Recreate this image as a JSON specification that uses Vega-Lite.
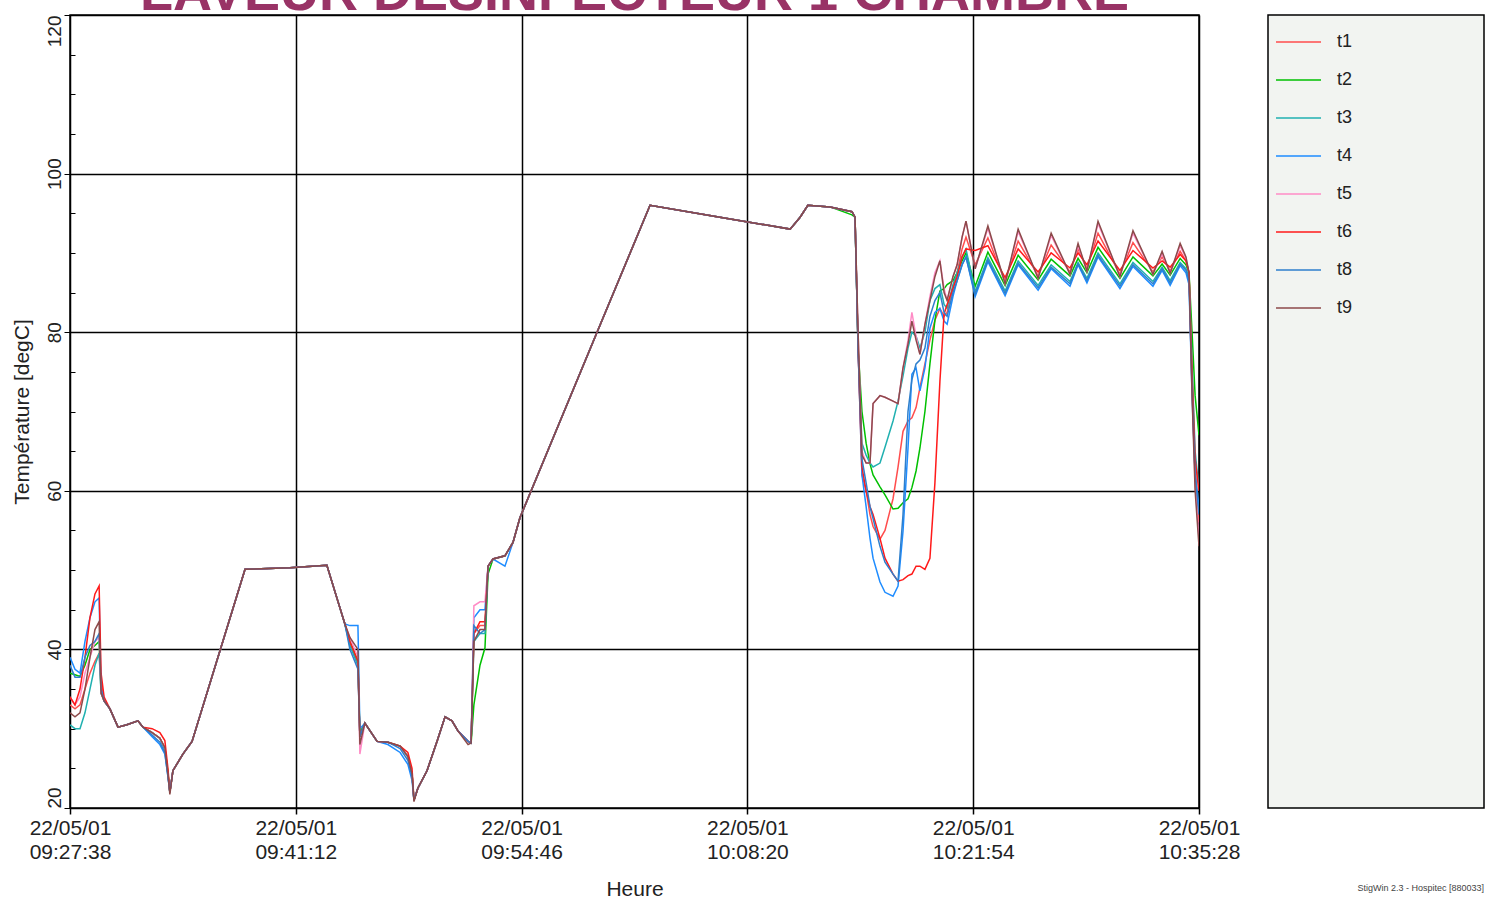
{
  "$schema": "https://vega.github.io/schema/vega-lite/v6.json",
  "background": "white",
  "padding": {"left": 10, "top": -35, "right": 0, "bottom": 0},
  "config": {"font": "Liberation Sans", "view": {"stroke": "black", "strokeWidth": 1.5}},
  "bounds": "flush",
  "spacing": 69,
  "hconcat": [
    {
      "width": 1129,
      "height": 793,
      "title": {"text": "LAVEUR DESINFECTEUR 1 CHAMBRE", "fontSize": 54, "fontWeight": "bold", "color": "#993366", "anchor": "middle", "offset": -6},
      "data": {"values": [
        {"t":"2001-05-22T09:27:38","t1":33,"t2":37,"t3":30.5,"t4":39,"t5":34,"t6":34,"t8":38,"t9":32},
        {"t":"2001-05-22T09:27:56","t1":32.5,"t2":36.8,"t3":30,"t4":37.5,"t5":33,"t6":33,"t8":36.5,"t9":31.5},
        {"t":"2001-05-22T09:28:14","t1":33,"t2":36.6,"t3":30,"t4":37,"t5":34,"t6":35,"t8":36.5,"t9":32},
        {"t":"2001-05-22T09:28:32","t1":35,"t2":38,"t3":32,"t4":41,"t5":37,"t6":39,"t8":39,"t9":35},
        {"t":"2001-05-22T09:28:50","t1":37,"t2":40,"t3":35,"t4":44,"t5":39,"t6":44,"t8":40.5,"t9":39},
        {"t":"2001-05-22T09:29:08","t1":38.5,"t2":40.5,"t3":38,"t4":46,"t5":41,"t6":47,"t8":41,"t9":42.5},
        {"t":"2001-05-22T09:29:23","t1":39.5,"t2":41,"t3":39.5,"t4":46.5,"t5":41.5,"t6":48,"t8":42,"t9":43.5},
        {"t":"2001-05-22T09:29:30","t1":36,"t2":34.5,"t3":34.5,"t4":35,"t5":34.5,"t6":37,"t8":35,"t9":34.5},
        {"t":"2001-05-22T09:29:41","t1":33.5,"t2":33.5,"t3":33.5,"t4":33.5,"t5":33.5,"t6":34,"t8":33.5,"t9":33.5},
        {"t":"2001-05-22T09:30:02","t1":32.5,"t2":32.5,"t3":32.5,"t4":32.5,"t5":32.5,"t6":32.5,"t8":32.5,"t9":32.5},
        {"t":"2001-05-22T09:30:31","t1":30.2,"t2":30.2,"t3":30.2,"t4":30.2,"t5":30.2,"t6":30.2,"t8":30.2,"t9":30.2},
        {"t":"2001-05-22T09:31:03","t1":30.5,"t2":30.5,"t3":30.5,"t4":30.5,"t5":30.5,"t6":30.5,"t8":30.5,"t9":30.5},
        {"t":"2001-05-22T09:31:43","t1":31,"t2":31,"t3":31,"t4":31,"t5":31,"t6":31,"t8":31,"t9":31},
        {"t":"2001-05-22T09:32:01","t1":30.2,"t2":30.2,"t3":30.2,"t4":30.2,"t5":30.2,"t6":30.2,"t8":30.2,"t9":30.2},
        {"t":"2001-05-22T09:32:34","t1":29.5,"t2":29.5,"t3":29.5,"t4":29,"t5":29.5,"t6":30,"t8":29.2,"t9":29.5},
        {"t":"2001-05-22T09:33:02","t1":28.8,"t2":28.8,"t3":28.8,"t4":28,"t5":28.8,"t6":29.5,"t8":28.3,"t9":28.8},
        {"t":"2001-05-22T09:33:20","t1":27.6,"t2":27.6,"t3":27.3,"t4":26.8,"t5":27.6,"t6":28.5,"t8":27,"t9":27.6},
        {"t":"2001-05-22T09:33:31","t1":24.3,"t2":24.5,"t3":24.3,"t4":24,"t5":24.3,"t6":25,"t8":24,"t9":24.3},
        {"t":"2001-05-22T09:33:38","t1":22,"t2":22,"t3":22,"t4":22,"t5":22,"t6":22,"t8":22,"t9":21.7},
        {"t":"2001-05-22T09:33:49","t1":24.7,"t2":24.7,"t3":24.7,"t4":24.7,"t5":24.7,"t6":24.7,"t8":24.7,"t9":24.7},
        {"t":"2001-05-22T09:34:25","t1":26.8,"t2":26.8,"t3":26.8,"t4":26.8,"t5":26.8,"t6":26.8,"t8":26.8,"t9":26.8},
        {"t":"2001-05-22T09:34:58","t1":28.4,"t2":28.4,"t3":28.4,"t4":28.4,"t5":28.4,"t6":28.4,"t8":28.4,"t9":28.4},
        {"t":"2001-05-22T09:38:09","t1":50.1,"t2":50.1,"t3":50.1,"t4":50.1,"t5":50.1,"t6":50.1,"t8":50.1,"t9":50.1},
        {"t":"2001-05-22T09:40:51","t1":50.3,"t2":50.3,"t3":50.3,"t4":50.3,"t5":50.3,"t6":50.3,"t8":50.3,"t9":50.3},
        {"t":"2001-05-22T09:43:04","t1":50.6,"t2":50.6,"t3":50.6,"t4":50.6,"t5":50.6,"t6":50.6,"t8":50.6,"t9":50.6},
        {"t":"2001-05-22T09:43:40","t1":46.5,"t2":46.5,"t3":46.5,"t4":46.5,"t5":46.5,"t6":46.5,"t8":46.5,"t9":46.5},
        {"t":"2001-05-22T09:44:09","t1":43.2,"t2":43.2,"t3":43.2,"t4":43.2,"t5":43.2,"t6":43.2,"t8":43.2,"t9":43.2},
        {"t":"2001-05-22T09:44:27","t1":40.8,"t2":41,"t3":40.5,"t4":43,"t5":41.5,"t6":41,"t8":40,"t9":41.5},
        {"t":"2001-05-22T09:44:56","t1":38,"t2":38.5,"t3":38,"t4":43,"t5":39,"t6":38.5,"t8":37.5,"t9":40},
        {"t":"2001-05-22T09:45:03","t1":29,"t2":29.5,"t3":29,"t4":30,"t5":26.8,"t6":29,"t8":29,"t9":28},
        {"t":"2001-05-22T09:45:21","t1":30.7,"t2":30.7,"t3":30.7,"t4":30.7,"t5":30.7,"t6":30.7,"t8":30.7,"t9":30.7},
        {"t":"2001-05-22T09:46:05","t1":28.4,"t2":28.4,"t3":28.4,"t4":28.4,"t5":28.4,"t6":28.4,"t8":28.4,"t9":28.4},
        {"t":"2001-05-22T09:46:44","t1":28.3,"t2":28.3,"t3":28.3,"t4":28,"t5":28.3,"t6":28.3,"t8":28.3,"t9":28.3},
        {"t":"2001-05-22T09:47:28","t1":27.8,"t2":27.8,"t3":27.8,"t4":27,"t5":27.8,"t6":27.8,"t8":27.5,"t9":27.8},
        {"t":"2001-05-22T09:47:56","t1":26.5,"t2":26.5,"t3":26.5,"t4":25.5,"t5":26.5,"t6":27,"t8":26,"t9":26.5},
        {"t":"2001-05-22T09:48:11","t1":24.3,"t2":24.3,"t3":24.3,"t4":23.5,"t5":24.3,"t6":25,"t8":24,"t9":24.3},
        {"t":"2001-05-22T09:48:18","t1":21,"t2":21,"t3":21,"t4":21,"t5":21,"t6":21,"t8":21,"t9":20.8},
        {"t":"2001-05-22T09:48:32","t1":22.5,"t2":22.5,"t3":22.5,"t4":22.5,"t5":22.5,"t6":22.5,"t8":22.5,"t9":22.5},
        {"t":"2001-05-22T09:49:05","t1":24.7,"t2":24.7,"t3":24.7,"t4":24.7,"t5":24.7,"t6":24.7,"t8":24.7,"t9":24.7},
        {"t":"2001-05-22T09:49:41","t1":28.4,"t2":28.4,"t3":28.4,"t4":28.4,"t5":28.4,"t6":28.4,"t8":28.4,"t9":28.4},
        {"t":"2001-05-22T09:50:10","t1":31.5,"t2":31.5,"t3":31.5,"t4":31.5,"t5":31.5,"t6":31.5,"t8":31.5,"t9":31.5},
        {"t":"2001-05-22T09:50:35","t1":31,"t2":31,"t3":31,"t4":31,"t5":31,"t6":31,"t8":31,"t9":31},
        {"t":"2001-05-22T09:50:57","t1":29.7,"t2":29.7,"t3":29.7,"t4":29.7,"t5":29.7,"t6":29.7,"t8":29.7,"t9":29.7},
        {"t":"2001-05-22T09:51:33","t1":28.4,"t2":28.4,"t3":28.4,"t4":28.4,"t5":28.4,"t6":28.4,"t8":28.4,"t9":28},
        {"t":"2001-05-22T09:51:44","t1":28.2,"t2":28.2,"t3":28.2,"t4":28.2,"t5":28.2,"t6":28.2,"t8":28.2,"t9":28.2},
        {"t":"2001-05-22T09:51:54","t1":42,"t2":33,"t3":41,"t4":44,"t5":45.5,"t6":42,"t8":43,"t9":41},
        {"t":"2001-05-22T09:52:16","t1":43,"t2":38,"t3":42,"t4":45,"t5":46,"t6":43.5,"t8":42,"t9":42.5},
        {"t":"2001-05-22T09:52:34","t1":43,"t2":40.2,"t3":42,"t4":45,"t5":46,"t6":43.5,"t8":42.5,"t9":42.5},
        {"t":"2001-05-22T09:52:45","t1":50.5,"t2":49.5,"t3":50.5,"t4":50.5,"t5":50.5,"t6":50.5,"t8":50.5,"t9":50.5},
        {"t":"2001-05-22T09:53:03","t1":51.4,"t2":51.4,"t3":51.4,"t4":51.4,"t5":51.4,"t6":51.4,"t8":51.4,"t9":51.4},
        {"t":"2001-05-22T09:53:46","t1":51.8,"t2":51.8,"t3":51.8,"t4":50.5,"t5":51.8,"t6":51.8,"t8":51.8,"t9":51.8},
        {"t":"2001-05-22T09:54:15","t1":53.5,"t2":53.5,"t3":53.5,"t4":53.5,"t5":53.5,"t6":53.5,"t8":53.5,"t9":53.5},
        {"t":"2001-05-22T09:54:40","t1":56.6,"t2":56.6,"t3":56.6,"t4":56.6,"t5":56.6,"t6":56.6,"t8":56.6,"t9":56.6},
        {"t":"2001-05-22T09:59:18","t1":80,"t2":80,"t3":80,"t4":80,"t5":80,"t6":80,"t8":80,"t9":80},
        {"t":"2001-05-22T10:02:29","t1":96,"t2":96,"t3":96,"t4":96,"t5":96,"t6":96,"t8":96,"t9":96},
        {"t":"2001-05-22T10:06:41","t1":94.5,"t2":94.5,"t3":94.5,"t4":94.5,"t5":94.5,"t6":94.5,"t8":94.5,"t9":94.5},
        {"t":"2001-05-22T10:10:54","t1":93,"t2":93,"t3":93,"t4":93,"t5":93,"t6":93,"t8":93,"t9":93},
        {"t":"2001-05-22T10:11:30","t1":94.5,"t2":94.5,"t3":94.5,"t4":94.5,"t5":94.5,"t6":94.5,"t8":94.5,"t9":94.5},
        {"t":"2001-05-22T10:11:58","t1":96,"t2":96,"t3":96,"t4":96,"t5":96,"t6":96,"t8":96,"t9":96},
        {"t":"2001-05-22T10:13:18","t1":95.8,"t2":95.8,"t3":95.8,"t4":95.8,"t5":95.8,"t6":95.8,"t8":95.8,"t9":95.8},
        {"t":"2001-05-22T10:14:37","t1":95.2,"t2":94.8,"t3":95.2,"t4":95.2,"t5":95.2,"t6":95.2,"t8":95.2,"t9":95.2},
        {"t":"2001-05-22T10:14:48","t1":94.5,"t2":94.5,"t3":94.5,"t4":94.5,"t5":94.5,"t6":94.5,"t8":94.5,"t9":94.5},
        {"t":"2001-05-22T10:14:59","t1":78,"t2":78,"t3":78,"t4":78,"t5":80,"t6":78,"t8":78,"t9":80},
        {"t":"2001-05-22T10:15:13","t1":62,"t2":70,"t3":66,"t4":62,"t5":65,"t6":63,"t8":64,"t9":64.5},
        {"t":"2001-05-22T10:15:28","t1":60,"t2":66,"t3":64.5,"t4":58,"t5":63.5,"t6":60,"t8":61,"t9":63.5},
        {"t":"2001-05-22T10:15:42","t1":57,"t2":63.4,"t3":63.5,"t4":54,"t5":63.5,"t6":58,"t8":58,"t9":63.5},
        {"t":"2001-05-22T10:15:53","t1":55.5,"t2":62,"t3":63,"t4":51.5,"t5":71,"t6":57,"t8":56.5,"t9":71},
        {"t":"2001-05-22T10:16:18","t1":53.9,"t2":60.5,"t3":63.5,"t4":48.5,"t5":72,"t6":54,"t8":53,"t9":72},
        {"t":"2001-05-22T10:16:36","t1":55,"t2":59.5,"t3":65.5,"t4":47.2,"t5":71.8,"t6":51.5,"t8":51,"t9":71.8},
        {"t":"2001-05-22T10:17:05","t1":59,"t2":57.7,"t3":68.8,"t4":46.7,"t5":71.3,"t6":49.5,"t8":49.5,"t9":71.3},
        {"t":"2001-05-22T10:17:23","t1":63,"t2":57.8,"t3":71.3,"t4":48,"t5":71,"t6":48.6,"t8":48.6,"t9":71},
        {"t":"2001-05-22T10:17:41","t1":67.5,"t2":58.5,"t3":74.5,"t4":54.9,"t5":75.5,"t6":48.8,"t8":57,"t9":75.5},
        {"t":"2001-05-22T10:17:59","t1":68.8,"t2":59,"t3":78,"t4":65.4,"t5":79,"t6":49.3,"t8":70,"t9":78.5},
        {"t":"2001-05-22T10:18:13","t1":69.2,"t2":60.4,"t3":80,"t4":74.7,"t5":82.5,"t6":49.5,"t8":74,"t9":81.4},
        {"t":"2001-05-22T10:18:28","t1":70.5,"t2":62.5,"t3":79.5,"t4":75.5,"t5":79.5,"t6":50.5,"t8":76,"t9":79},
        {"t":"2001-05-22T10:18:42","t1":73,"t2":65.4,"t3":78,"t4":72.6,"t5":77.2,"t6":50.5,"t8":76.5,"t9":77.2},
        {"t":"2001-05-22T10:19:00","t1":76,"t2":70,"t3":80,"t4":75.5,"t5":81,"t6":50.1,"t8":78,"t9":81},
        {"t":"2001-05-22T10:19:18","t1":79,"t2":76,"t3":84,"t4":80.5,"t5":84.5,"t6":51.5,"t8":82,"t9":84},
        {"t":"2001-05-22T10:19:36","t1":81.5,"t2":81.5,"t3":85.5,"t4":82.5,"t5":87.5,"t6":61,"t8":84,"t9":87},
        {"t":"2001-05-22T10:19:54","t1":83,"t2":85.2,"t3":86,"t4":83,"t5":89,"t6":73.8,"t8":85,"t9":89},
        {"t":"2001-05-22T10:20:09","t1":82,"t2":85.5,"t3":83.5,"t4":81.4,"t5":85.5,"t6":82.3,"t8":82.5,"t9":85},
        {"t":"2001-05-22T10:20:20","t1":82.5,"t2":86,"t3":83,"t4":81,"t5":84,"t6":83.5,"t8":82,"t9":84},
        {"t":"2001-05-22T10:20:41","t1":85.5,"t2":86.5,"t3":86,"t4":84.5,"t5":87,"t6":85.5,"t8":85,"t9":87},
        {"t":"2001-05-22T10:20:56","t1":87.5,"t2":87.5,"t3":87.5,"t4":86.5,"t5":88.5,"t6":87,"t8":86.5,"t9":88.5},
        {"t":"2001-05-22T10:21:14","t1":90.5,"t2":89,"t3":89.5,"t4":88.5,"t5":92,"t6":89.5,"t8":88.5,"t9":92},
        {"t":"2001-05-22T10:21:28","t1":92,"t2":90,"t3":90.5,"t4":89.5,"t5":94,"t6":90.5,"t8":89.5,"t9":94},
        {"t":"2001-05-22T10:22:01","t1":88.5,"t2":85.8,"t3":85.1,"t4":84.5,"t5":88,"t6":90.3,"t8":84.8,"t9":88},
        {"t":"2001-05-22T10:22:47","t1":91.9,"t2":90.1,"t3":89.4,"t4":88.9,"t5":93.1,"t6":90.9,"t8":89.1,"t9":93.4},
        {"t":"2001-05-22T10:23:49","t1":86.4,"t2":85.9,"t3":85.2,"t4":84.6,"t5":86.1,"t6":86.9,"t8":84.9,"t9":86.1},
        {"t":"2001-05-22T10:24:36","t1":91.5,"t2":89.7,"t3":89,"t4":88.5,"t5":92.7,"t6":90.5,"t8":88.7,"t9":93},
        {"t":"2001-05-22T10:25:48","t1":87.1,"t2":86.6,"t3":85.9,"t4":85.3,"t5":86.8,"t6":87.6,"t8":85.6,"t9":86.8},
        {"t":"2001-05-22T10:26:35","t1":91,"t2":89.2,"t3":88.5,"t4":88,"t5":92.2,"t6":90,"t8":88.2,"t9":92.5},
        {"t":"2001-05-22T10:27:43","t1":87.6,"t2":87.1,"t3":86.4,"t4":85.8,"t5":87.3,"t6":88.1,"t8":86.1,"t9":87.3},
        {"t":"2001-05-22T10:28:12","t1":90.5,"t2":89.3,"t3":88.8,"t4":88.5,"t5":90.9,"t6":90,"t8":88.6,"t9":91.2},
        {"t":"2001-05-22T10:28:44","t1":88,"t2":87.5,"t3":86.8,"t4":86.2,"t5":87.7,"t6":88.5,"t8":86.5,"t9":87.7},
        {"t":"2001-05-22T10:29:24","t1":92.5,"t2":90.7,"t3":90,"t4":89.5,"t5":93.7,"t6":91.5,"t8":89.7,"t9":94},
        {"t":"2001-05-22T10:30:43","t1":87.3,"t2":86.8,"t3":86.1,"t4":85.5,"t5":87,"t6":87.8,"t8":85.8,"t9":87},
        {"t":"2001-05-22T10:31:30","t1":91.3,"t2":89.5,"t3":88.8,"t4":88.3,"t5":92.5,"t6":90.3,"t8":88.5,"t9":92.8},
        {"t":"2001-05-22T10:32:42","t1":87.6,"t2":87.1,"t3":86.4,"t4":85.8,"t5":87.3,"t6":88.1,"t8":86.1,"t9":87.3},
        {"t":"2001-05-22T10:33:15","t1":89.5,"t2":88.6,"t3":88.2,"t4":87.8,"t5":89.9,"t6":89,"t8":88,"t9":90.2},
        {"t":"2001-05-22T10:33:44","t1":87.7,"t2":87.2,"t3":86.5,"t4":85.9,"t5":87.4,"t6":88.2,"t8":86.2,"t9":87.4},
        {"t":"2001-05-22T10:34:20","t1":90.2,"t2":89.3,"t3":88.8,"t4":88.4,"t5":90.9,"t6":89.8,"t8":88.6,"t9":91.2},
        {"t":"2001-05-22T10:34:41","t1":89,"t2":88.5,"t3":88,"t4":87.5,"t5":89.3,"t6":89,"t8":87.8,"t9":89.5},
        {"t":"2001-05-22T10:34:52","t1":87.5,"t2":87.5,"t3":87,"t4":86,"t5":87.5,"t6":87.5,"t8":86.5,"t9":87.5},
        {"t":"2001-05-22T10:35:03","t1":74,"t2":80,"t3":76,"t4":72,"t5":73,"t6":75,"t8":73,"t9":72},
        {"t":"2001-05-22T10:35:14","t1":63,"t2":72,"t3":65,"t4":62,"t5":61,"t6":64,"t8":62,"t9":60},
        {"t":"2001-05-22T10:35:28","t1":56,"t2":67,"t3":60,"t4":58,"t5":54,"t6":60,"t8":57,"t9":53}
      ]},
      "transform": [{"fold": ["t1","t2","t3","t4","t5","t6","t8","t9"], "as": ["s","v"]}],
      "mark": {"type": "line", "strokeWidth": 1.5, "clip": true},
      "encoding": {
        "x": {
          "field": "t", "type": "temporal",
          "scale": {"domain": [{"year":2001,"month":5,"date":22,"hours":9,"minutes":27,"seconds":38},{"year":2001,"month":5,"date":22,"hours":10,"minutes":35,"seconds":28}], "nice": false},
          "axis": {
            "values": [
              {"year":2001,"month":5,"date":22,"hours":9,"minutes":27,"seconds":38},
              {"year":2001,"month":5,"date":22,"hours":9,"minutes":41,"seconds":12},
              {"year":2001,"month":5,"date":22,"hours":9,"minutes":54,"seconds":46},
              {"year":2001,"month":5,"date":22,"hours":10,"minutes":8,"seconds":20},
              {"year":2001,"month":5,"date":22,"hours":10,"minutes":21,"seconds":54},
              {"year":2001,"month":5,"date":22,"hours":10,"minutes":35,"seconds":28}
            ],
            "labelExpr": "[timeFormat(datum.value, '%d/%m/%y'), timeFormat(datum.value, '%H:%M:%S')]",
            "labelFontSize": 21, "labelColor": "#222222", "labelLineHeight": 24, "labelPadding": 3,
            "labelAngle": 0, "labelAlign": "center", "labelBaseline": "top", "labelFlush": false, "labelOverlap": false,
            "tickSize": 6, "tickColor": "black", "tickWidth": 1.5,
            "grid": true, "gridColor": "black", "gridWidth": 1.5, "gridOpacity": 1,
            "domain": false,
            "title": "Heure", "titleFontSize": 21, "titleFontWeight": "normal", "titleColor": "#222222", "titlePadding": 16
          }
        },
        "y": {
          "field": "v", "type": "quantitative",
          "scale": {"domain": [20, 120], "nice": false, "zero": false},
          "axis": {
            "values": [20,25,30,35,40,45,50,55,60,65,70,75,80,85,90,95,100,105,110,115,120],
            "labelExpr": "datum.value % 20 === 0 ? datum.label : ''",
            "labelFontSize": 19, "labelColor": "#222222", "labelAngle": 270,
            "labelAlign": {"condition": [{"test": "datum.value === 20", "value": "left"}, {"test": "datum.value === 120", "value": "right"}], "value": "center"},
            "labelBaseline": "bottom", "labelPadding": 0, "labelFlush": false, "labelOverlap": false,
            "grid": true, "gridColor": "black", "gridWidth": 1.5,
            "gridOpacity": {"condition": {"test": "datum.value % 20 === 0", "value": 1}, "value": 0},
            "tickColor": "black", "tickWidth": 1,
            "tickSize": {"condition": {"test": "datum.value % 20 === 0", "value": 6}, "value": -5},
            "domain": false,
            "title": "Température [degC]", "titleFontSize": 21, "titleFontWeight": "normal", "titleColor": "#222222", "titlePadding": 13
          }
        },
        "color": {
          "field": "s", "type": "nominal",
          "scale": {"domain": ["t1","t2","t3","t4","t5","t6","t8","t9"], "range": ["#FF4D4D","#00C000","#20B0B0","#1E8CFF","#FF8CC6","#FF1A1A","#2E7FCC","#8C4A4A"]},
          "legend": {
            "orient": "none", "legendX": 1205, "legendY": 17, "title": null,
            "symbolType": "stroke", "symbolSize": 2025, "symbolStrokeWidth": 1.5,
            "clipHeight": 20, "rowPadding": 18, "labelFontSize": 18, "labelOffset": 15,
            "labelColor": "#222222", "padding": 0
          }
        }
      }
    },
    {
      "width": 216,
      "height": 793,
      "view": {"fill": "#F2F4F1", "stroke": "black", "strokeWidth": 1.5},
      "title": {"text": "StigWin 2.3 - Hospitec [880033]", "orient": "bottom", "anchor": "end", "fontSize": 9, "fontWeight": "normal", "color": "#444444", "offset": 76},
      "data": {"values": []},
      "mark": "text"
    }
  ]
}
